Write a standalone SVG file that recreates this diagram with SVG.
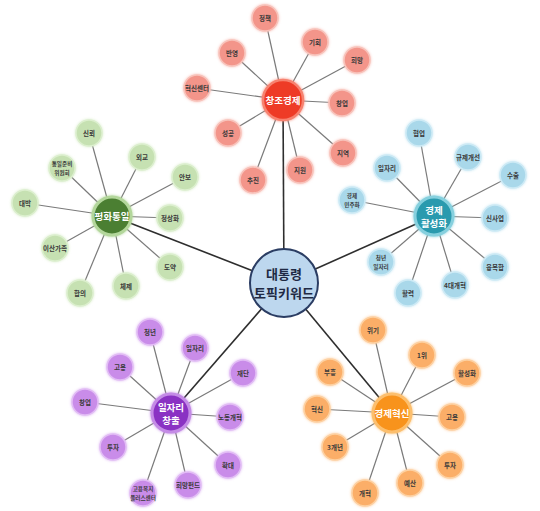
<svg xmlns="http://www.w3.org/2000/svg" width="540" height="511" viewBox="0 0 540 511">
<defs>
<filter id="glow" x="-50%" y="-50%" width="200%" height="200%">
<feGaussianBlur in="SourceGraphic" stdDeviation="1.6" result="b"/>
<feMerge><feMergeNode in="b"/><feMergeNode in="SourceGraphic"/></feMerge>
</filter>
</defs>
<style>
text{font-family:"Noto Sans CJK KR","Noto Sans",sans-serif;font-weight:bold;text-anchor:middle;dominant-baseline:central}
.s{font-size:6.5px;fill:#3a3a3a}
.s2{font-size:5.6px;fill:#3a3a3a}
.h{font-size:9.5px;fill:#fff}
.spoke line{stroke:#7a7a7a;stroke-width:1.2}
.main line{stroke:#2e2e2e;stroke-width:1.6}
.red .n{fill:#f3958a;stroke:#f8c3bb;stroke-width:1.5}
.red .hub{fill:#ee3a25;stroke:#f7826f;stroke-width:2.5}
.grn .n{fill:#c6e1b2;stroke:#dcefce;stroke-width:1.5}
.grn .hub{fill:#4c7f33;stroke:#b3d79b;stroke-width:3}
.tea .n{fill:#a9d8ea;stroke:#cdeaf5;stroke-width:1.5}
.tea .hub{fill:#2a9aae;stroke:#86d0de;stroke-width:3}
.pur .n{fill:#c98ce9;stroke:#e2bdf5;stroke-width:1.5}
.pur .hub{fill:#8a33c3;stroke:#c48be6;stroke-width:3}
.org .n{fill:#fbae67;stroke:#fdd1a2;stroke-width:1.5}
.org .hub{fill:#f8931d;stroke:#fcbf6e;stroke-width:3}
</style>
<rect width="540" height="511" fill="#fff"/>
<g id="connectors">
<g class="main">
<line x1="284" y1="283" x2="283" y2="100"/>
<line x1="284" y1="283" x2="112" y2="216"/>
<line x1="284" y1="283" x2="434" y2="216"/>
<line x1="284" y1="283" x2="171" y2="413"/>
<line x1="284" y1="283" x2="392" y2="413"/>
</g>
<g class="spoke">
<line x1="283" y1="100" x2="265" y2="18"/><line x1="283" y1="100" x2="315" y2="42"/><line x1="283" y1="100" x2="357" y2="60"/><line x1="283" y1="100" x2="232" y2="53"/><line x1="283" y1="100" x2="197" y2="88"/><line x1="283" y1="100" x2="342" y2="103"/><line x1="283" y1="100" x2="228" y2="133"/><line x1="283" y1="100" x2="343" y2="153"/><line x1="283" y1="100" x2="300" y2="170"/><line x1="283" y1="100" x2="253" y2="180"/>
<line x1="112" y1="216" x2="89" y2="133"/><line x1="112" y1="216" x2="142" y2="157"/><line x1="112" y1="216" x2="185" y2="177"/><line x1="112" y1="216" x2="62" y2="168"/><line x1="112" y1="216" x2="25" y2="203"/><line x1="112" y1="216" x2="170" y2="218"/><line x1="112" y1="216" x2="55" y2="248"/><line x1="112" y1="216" x2="170" y2="267"/><line x1="112" y1="216" x2="126" y2="286"/><line x1="112" y1="216" x2="80" y2="293"/>
<line x1="434" y1="216" x2="419" y2="133"/><line x1="434" y1="216" x2="468" y2="157"/><line x1="434" y1="216" x2="513" y2="175"/><line x1="434" y1="216" x2="387" y2="168"/><line x1="434" y1="216" x2="352" y2="200"/><line x1="434" y1="216" x2="495" y2="218"/><line x1="434" y1="216" x2="381" y2="262"/><line x1="434" y1="216" x2="495" y2="267"/><line x1="434" y1="216" x2="455" y2="285"/><line x1="434" y1="216" x2="408" y2="293"/>
<line x1="171" y1="413" x2="150" y2="332"/><line x1="171" y1="413" x2="195" y2="348"/><line x1="171" y1="413" x2="120" y2="367"/><line x1="171" y1="413" x2="243" y2="373"/><line x1="171" y1="413" x2="85" y2="402"/><line x1="171" y1="413" x2="230" y2="417"/><line x1="171" y1="413" x2="113" y2="447"/><line x1="171" y1="413" x2="228" y2="465"/><line x1="171" y1="413" x2="188" y2="485"/><line x1="171" y1="413" x2="143" y2="493"/>
<line x1="392" y1="413" x2="373" y2="330"/><line x1="392" y1="413" x2="422" y2="355"/><line x1="392" y1="413" x2="467" y2="373"/><line x1="392" y1="413" x2="330" y2="372"/><line x1="392" y1="413" x2="317" y2="409"/><line x1="392" y1="413" x2="452" y2="417"/><line x1="392" y1="413" x2="335" y2="447"/><line x1="392" y1="413" x2="450" y2="465"/><line x1="392" y1="413" x2="410" y2="483"/><line x1="392" y1="413" x2="365" y2="493"/>
</g>
</g>

<g id="center">
<circle cx="284" cy="283" r="34" fill="#bdd7ee" stroke="#2b3d63" stroke-width="2"/>
<text x="284" y="273.5" style="font-size:13px;fill:#1f2a44">대통령</text>
<text x="284" y="292.5" style="font-size:13px;fill:#1f2a44">토픽키워드</text>
</g>

<g id="cluster-red" class="red">
<g id="hub-창조경제"><circle class="hub" cx="283" cy="100" r="20" filter="url(#glow)"/><text class="h" x="283" y="100">창조경제</text></g>
<g id="r1"><circle class="n" cx="265" cy="18" r="13" filter="url(#glow)"/><text class="s" x="265" y="18">정책</text></g>
<g id="r2"><circle class="n" cx="315" cy="42" r="13" filter="url(#glow)"/><text class="s" x="315" y="42">기회</text></g>
<g id="r3"><circle class="n" cx="357" cy="60" r="13" filter="url(#glow)"/><text class="s" x="357" y="60">희망</text></g>
<g id="r4"><circle class="n" cx="232" cy="53" r="13" filter="url(#glow)"/><text class="s" x="232" y="53">반영</text></g>
<g id="r5"><circle class="n" cx="197" cy="88" r="13" filter="url(#glow)"/><text class="s" x="197" y="88">혁신센터</text></g>
<g id="r6"><circle class="n" cx="342" cy="103" r="13" filter="url(#glow)"/><text class="s" x="342" y="103">창업</text></g>
<g id="r7"><circle class="n" cx="228" cy="133" r="13" filter="url(#glow)"/><text class="s" x="228" y="133">성공</text></g>
<g id="r8"><circle class="n" cx="343" cy="153" r="13" filter="url(#glow)"/><text class="s" x="343" y="153">지역</text></g>
<g id="r9"><circle class="n" cx="300" cy="170" r="13" filter="url(#glow)"/><text class="s" x="300" y="170">지원</text></g>
<g id="r10"><circle class="n" cx="253" cy="180" r="13" filter="url(#glow)"/><text class="s" x="253" y="180">추진</text></g>
</g>

<g id="cluster-green" class="grn">
<g id="hub-평화통일"><circle class="hub" cx="112" cy="216" r="19" filter="url(#glow)"/><text class="h" x="112" y="216">평화통일</text></g>
<g id="g1"><circle class="n" cx="89" cy="133" r="13" filter="url(#glow)"/><text class="s" x="89" y="133">신뢰</text></g>
<g id="g2"><circle class="n" cx="142" cy="157" r="13" filter="url(#glow)"/><text class="s" x="142" y="157">외교</text></g>
<g id="g3"><circle class="n" cx="185" cy="177" r="13" filter="url(#glow)"/><text class="s" x="185" y="177">안보</text></g>
<g id="g4"><circle class="n" cx="62" cy="168" r="13" filter="url(#glow)"/><text class="s2" x="62" y="163.5">통일준비</text><text class="s2" x="62" y="172.5">위원회</text></g>
<g id="g5"><circle class="n" cx="25" cy="203" r="13" filter="url(#glow)"/><text class="s" x="25" y="203">대박</text></g>
<g id="g6"><circle class="n" cx="170" cy="218" r="13" filter="url(#glow)"/><text class="s" x="170" y="218">정상화</text></g>
<g id="g7"><circle class="n" cx="55" cy="248" r="13" filter="url(#glow)"/><text class="s" x="55" y="248">이산가족</text></g>
<g id="g8"><circle class="n" cx="170" cy="267" r="13" filter="url(#glow)"/><text class="s" x="170" y="267">도약</text></g>
<g id="g9"><circle class="n" cx="126" cy="286" r="13" filter="url(#glow)"/><text class="s" x="126" y="286">체제</text></g>
<g id="g10"><circle class="n" cx="80" cy="293" r="13" filter="url(#glow)"/><text class="s" x="80" y="293">합의</text></g>
</g>

<g id="cluster-teal" class="tea">
<g id="hub-경제활성화"><circle class="hub" cx="434" cy="216" r="19" filter="url(#glow)"/><text class="h" x="434" y="209.5">경제</text><text class="h" x="434" y="222.5">활성화</text></g>
<g id="t1"><circle class="n" cx="419" cy="133" r="13" filter="url(#glow)"/><text class="s" x="419" y="133">협업</text></g>
<g id="t2"><circle class="n" cx="468" cy="157" r="13" filter="url(#glow)"/><text class="s" x="468" y="157">규제개선</text></g>
<g id="t3"><circle class="n" cx="513" cy="175" r="13" filter="url(#glow)"/><text class="s" x="513" y="175">수출</text></g>
<g id="t4"><circle class="n" cx="387" cy="168" r="13" filter="url(#glow)"/><text class="s" x="387" y="168">일자리</text></g>
<g id="t5"><circle class="n" cx="352" cy="200" r="13" filter="url(#glow)"/><text class="s2" x="352" y="195.5">경제</text><text class="s2" x="352" y="204.5">민주화</text></g>
<g id="t6"><circle class="n" cx="495" cy="218" r="13" filter="url(#glow)"/><text class="s" x="495" y="218">신사업</text></g>
<g id="t7"><circle class="n" cx="381" cy="262" r="13" filter="url(#glow)"/><text class="s2" x="381" y="257.5">청년</text><text class="s2" x="381" y="266.5">일자리</text></g>
<g id="t8"><circle class="n" cx="495" cy="267" r="13" filter="url(#glow)"/><text class="s" x="495" y="267">융복합</text></g>
<g id="t9"><circle class="n" cx="455" cy="285" r="13" filter="url(#glow)"/><text class="s" x="455" y="285">4대개혁</text></g>
<g id="t10"><circle class="n" cx="408" cy="293" r="13" filter="url(#glow)"/><text class="s" x="408" y="293">활력</text></g>
</g>

<g id="cluster-purple" class="pur">
<g id="hub-일자리창출"><circle class="hub" cx="171" cy="413" r="19" filter="url(#glow)"/><text class="h" x="171" y="406.5">일자리</text><text class="h" x="171" y="419.5">창출</text></g>
<g id="p1"><circle class="n" cx="150" cy="332" r="13" filter="url(#glow)"/><text class="s" x="150" y="332">청년</text></g>
<g id="p2"><circle class="n" cx="195" cy="348" r="13" filter="url(#glow)"/><text class="s" x="195" y="348">일자리</text></g>
<g id="p3"><circle class="n" cx="120" cy="367" r="13" filter="url(#glow)"/><text class="s" x="120" y="367">고용</text></g>
<g id="p4"><circle class="n" cx="243" cy="373" r="13" filter="url(#glow)"/><text class="s" x="243" y="373">재단</text></g>
<g id="p5"><circle class="n" cx="85" cy="402" r="13" filter="url(#glow)"/><text class="s" x="85" y="402">창업</text></g>
<g id="p6"><circle class="n" cx="230" cy="417" r="13" filter="url(#glow)"/><text class="s" x="230" y="417">노동개혁</text></g>
<g id="p7"><circle class="n" cx="113" cy="447" r="13" filter="url(#glow)"/><text class="s" x="113" y="447">투자</text></g>
<g id="p8"><circle class="n" cx="228" cy="465" r="13" filter="url(#glow)"/><text class="s" x="228" y="465">확대</text></g>
<g id="p9"><circle class="n" cx="188" cy="485" r="13" filter="url(#glow)"/><text class="s" x="188" y="485">희망펀드</text></g>
<g id="p10"><circle class="n" cx="143" cy="493" r="13" filter="url(#glow)"/><text class="s2" x="143" y="488.5">고용복지</text><text class="s2" x="143" y="497.5">플러스센터</text></g>
</g>

<g id="cluster-orange" class="org">
<g id="hub-경제혁신"><circle class="hub" cx="392" cy="413" r="19" filter="url(#glow)"/><text class="h" x="392" y="413">경제혁신</text></g>
<g id="o1"><circle class="n" cx="373" cy="330" r="13" filter="url(#glow)"/><text class="s" x="373" y="330">위기</text></g>
<g id="o2"><circle class="n" cx="422" cy="355" r="13" filter="url(#glow)"/><text class="s" x="422" y="355">1위</text></g>
<g id="o3"><circle class="n" cx="467" cy="373" r="13" filter="url(#glow)"/><text class="s" x="467" y="373">활성화</text></g>
<g id="o4"><circle class="n" cx="330" cy="372" r="13" filter="url(#glow)"/><text class="s" x="330" y="372">부흥</text></g>
<g id="o5"><circle class="n" cx="317" cy="409" r="13" filter="url(#glow)"/><text class="s" x="317" y="409">혁신</text></g>
<g id="o6"><circle class="n" cx="452" cy="417" r="13" filter="url(#glow)"/><text class="s" x="452" y="417">고용</text></g>
<g id="o7"><circle class="n" cx="335" cy="447" r="13" filter="url(#glow)"/><text class="s" x="335" y="447">3개년</text></g>
<g id="o8"><circle class="n" cx="450" cy="465" r="13" filter="url(#glow)"/><text class="s" x="450" y="465">투자</text></g>
<g id="o9"><circle class="n" cx="410" cy="483" r="13" filter="url(#glow)"/><text class="s" x="410" y="483">예산</text></g>
<g id="o10"><circle class="n" cx="365" cy="493" r="13" filter="url(#glow)"/><text class="s" x="365" y="493">개혁</text></g>
</g>
</svg>
